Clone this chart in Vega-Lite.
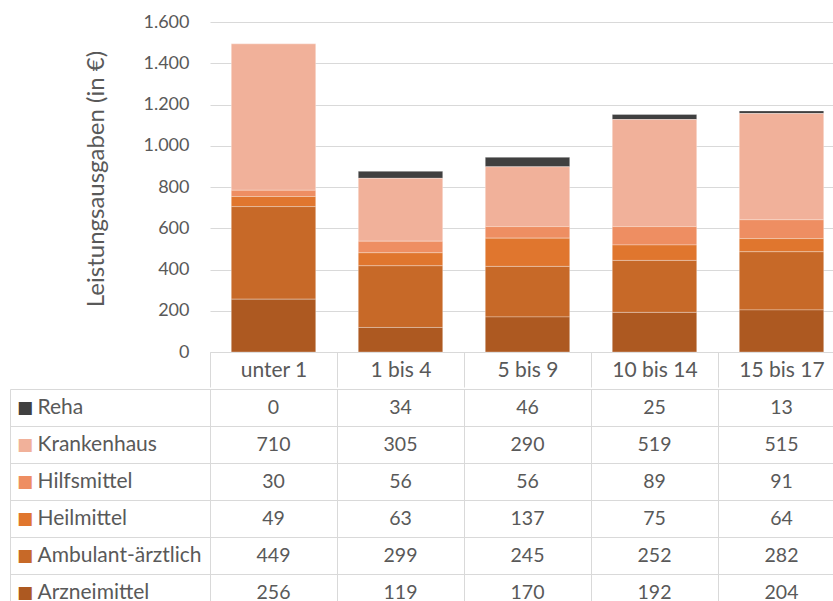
{
  "$schema": "https://vega.github.io/schema/vega-lite/v6.json",
  "padding": {"left": 9, "top": 13, "right": 0, "bottom": 0},
  "spacing": -11,
  "background": "white",
  "config": {
    "font": "Lato",
    "view": {"stroke": null},
    "axis": {"titleColor": "#595959", "labelFontSize": 18, "titleFontSize": 18, "titleFontWeight": "normal", "gridColor": "#D9D9D9", "domainColor": "#D9D9D9", "tickColor": "#D9D9D9"}
  },
  "datasets": {
    "d": [
      {"age": "unter 1", "series": "Reha", "value": 0},
      {"age": "unter 1", "series": "Krankenhaus", "value": 710},
      {"age": "unter 1", "series": "Hilfsmittel", "value": 30},
      {"age": "unter 1", "series": "Heilmittel", "value": 49},
      {"age": "unter 1", "series": "Ambulant-ärztlich", "value": 449},
      {"age": "unter 1", "series": "Arzneimittel", "value": 256},
      {"age": "1 bis 4", "series": "Reha", "value": 34},
      {"age": "1 bis 4", "series": "Krankenhaus", "value": 305},
      {"age": "1 bis 4", "series": "Hilfsmittel", "value": 56},
      {"age": "1 bis 4", "series": "Heilmittel", "value": 63},
      {"age": "1 bis 4", "series": "Ambulant-ärztlich", "value": 299},
      {"age": "1 bis 4", "series": "Arzneimittel", "value": 119},
      {"age": "5 bis 9", "series": "Reha", "value": 46},
      {"age": "5 bis 9", "series": "Krankenhaus", "value": 290},
      {"age": "5 bis 9", "series": "Hilfsmittel", "value": 56},
      {"age": "5 bis 9", "series": "Heilmittel", "value": 137},
      {"age": "5 bis 9", "series": "Ambulant-ärztlich", "value": 245},
      {"age": "5 bis 9", "series": "Arzneimittel", "value": 170},
      {"age": "10 bis 14", "series": "Reha", "value": 25},
      {"age": "10 bis 14", "series": "Krankenhaus", "value": 519},
      {"age": "10 bis 14", "series": "Hilfsmittel", "value": 89},
      {"age": "10 bis 14", "series": "Heilmittel", "value": 75},
      {"age": "10 bis 14", "series": "Ambulant-ärztlich", "value": 252},
      {"age": "10 bis 14", "series": "Arzneimittel", "value": 192},
      {"age": "15 bis 17", "series": "Reha", "value": 13},
      {"age": "15 bis 17", "series": "Krankenhaus", "value": 515},
      {"age": "15 bis 17", "series": "Hilfsmittel", "value": 91},
      {"age": "15 bis 17", "series": "Heilmittel", "value": 64},
      {"age": "15 bis 17", "series": "Ambulant-ärztlich", "value": 282},
      {"age": "15 bis 17", "series": "Arzneimittel", "value": 204}
    ]
  },
  "vconcat": [
    {
      "width": 635,
      "height": 330,
      "data": {"name": "d"},
      "transform": [
        {"calculate": "indexof(['Arzneimittel', 'Ambulant-ärztlich', 'Heilmittel', 'Hilfsmittel', 'Krankenhaus', 'Reha'], datum.series)", "as": "stackOrder"}
      ],
      "mark": {"type": "bar", "width": {"band": 0.665}, "stroke": "#ffffff", "strokeWidth": 0.5, "strokeOpacity": 0.6},
      "encoding": {
        "x": {
          "field": "age", "type": "nominal",
          "sort": ["unter 1", "1 bis 4", "5 bis 9", "10 bis 14", "15 bis 17"],
          "scale": {"paddingInner": 0, "paddingOuter": 0},
          "axis": {"title": null, "labelAngle": 0, "tickBand": "extent", "tickSize": 35, "labelPadding": -17, "labelBaseline": "middle", "labelFontSize": 21, "labelColor": "#595959"}
        },
        "y": {
          "field": "value", "type": "quantitative", "stack": "zero",
          "scale": {"domain": [0, 1600]},
          "axis": {
            "title": "Leistungsausgaben (in €)",
            "titleFontSize": 24,
            "titleY": 156.5,
            "labelColor": "#595959",
            "values": [0, 200, 400, 600, 800, 1000, 1200, 1400, 1600],
            "labelExpr": "replace(format(datum.value, ','), ',', '.')",
            "domain": false, "ticks": false, "labelPadding": 21, "titlePadding": 34
          }
        },
        "order": {"field": "stackOrder", "type": "quantitative", "sort": "ascending"},
        "color": {
          "field": "series", "type": "nominal",
          "scale": {
            "domain": ["Arzneimittel", "Ambulant-ärztlich", "Heilmittel", "Hilfsmittel", "Krankenhaus", "Reha"],
            "range": ["#AD5921", "#C76928", "#E0762E", "#EE8E62", "#F1B19A", "#404040"]
          },
          "legend": null
        }
      }
    },
    {
      "width": 635,
      "height": 222,
      "data": {"name": "d"},
      "view": {"stroke": "#D9D9D9"},
      "layer": [
        {
          "mark": {"type": "text", "fontSize": 19.5, "color": "#595959"},
          "encoding": {
            "x": {
              "field": "age", "type": "nominal",
              "sort": ["unter 1", "1 bis 4", "5 bis 9", "10 bis 14", "15 bis 17"],
              "axis": {"title": null, "labels": false, "ticks": false, "domain": false, "grid": true, "tickBand": "extent"}
            },
            "y": {
              "field": "series", "type": "nominal",
              "sort": ["Reha", "Krankenhaus", "Hilfsmittel", "Heilmittel", "Ambulant-ärztlich", "Arzneimittel"],
              "axis": {"title": null, "domain": false, "ticks": true, "tickSize": 200, "tickBand": "extent", "grid": true, "labelAlign": "left", "labelBaseline": "middle", "labelPadding": -27, "labelFontSize": 21, "labelColor": "#595959"}
            },
            "text": {"field": "value", "type": "quantitative", "format": "d"}
          }
        },
        {
          "mark": {"type": "text", "opacity": 0, "text": ""},
          "encoding": {
            "y": {
              "field": "series", "type": "nominal",
              "sort": ["Reha", "Krankenhaus", "Hilfsmittel", "Heilmittel", "Ambulant-ärztlich", "Arzneimittel"],
              "axis": {
                "title": null, "orient": "left", "offset": 200, "domain": true, "ticks": false, "tickSize": 0, "grid": false,
                "labelExpr": "'■'", "labelFont": "DejaVu Sans", "labelFontSize": 17, "labelAlign": "left", "labelBaseline": "middle", "labelPadding": -6.5,
                "labelColor": {
                  "condition": [
                    {"test": "datum.value == 'Reha'", "value": "#404040"},
                    {"test": "datum.value == 'Krankenhaus'", "value": "#F1B19A"},
                    {"test": "datum.value == 'Hilfsmittel'", "value": "#EE8E62"},
                    {"test": "datum.value == 'Heilmittel'", "value": "#E0762E"},
                    {"test": "datum.value == 'Ambulant-ärztlich'", "value": "#C76928"}
                  ],
                  "value": "#AD5921"
                }
              }
            }
          }
        }
      ],
      "resolve": {"axis": {"y": "independent"}}
    }
  ]
}
